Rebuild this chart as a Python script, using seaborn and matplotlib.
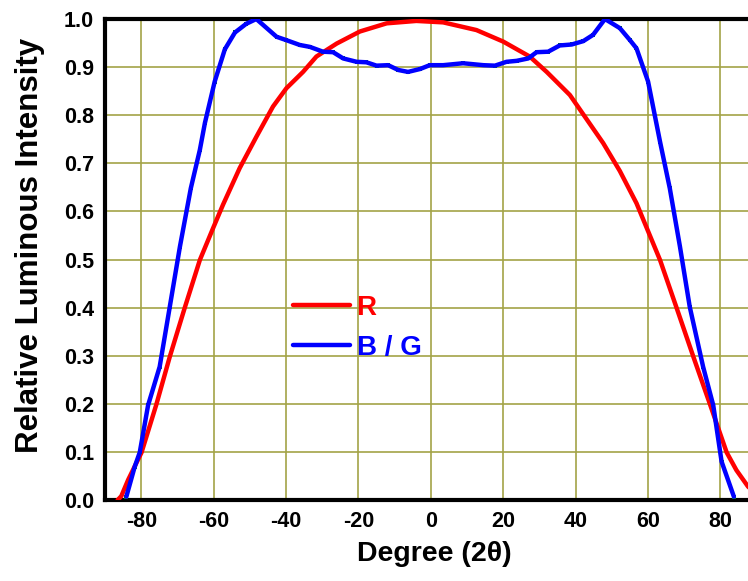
import pandas as pd
import matplotlib.pyplot as plt
import seaborn as sns

# Angular emission profiles
red_deg = [-86.5, -85.5, -83.6, -79.9, -75.8, -72.1, -68.0, -63.8, -60.1, -57.4,
           -52.8, -48.2, -43.6, -39.9, -35.3, -31.6, -26.0, -19.6, -12.2, -4.0,
           3.4, 12.6, 20.0, 27.3, 32.0, 38.4, 43.0, 47.6, 52.2, 56.8,
           63.3, 67.9, 72.5, 77.1, 81.7, 84.4, 87.6, 90.0]
red_int = [0.0, 0.008, 0.042, 0.099, 0.199, 0.298, 0.399, 0.499, 0.566, 0.614,
           0.690, 0.755, 0.818, 0.856, 0.890, 0.922, 0.949, 0.974, 0.991, 0.996,
           0.993, 0.977, 0.953, 0.922, 0.890, 0.842, 0.792, 0.742, 0.684, 0.617,
           0.499, 0.399, 0.298, 0.199, 0.099, 0.062, 0.028, 0.010]

blue_deg = [-84.1, -81.8, -80.4, -78.1, -74.9, -72.1, -69.3, -66.3, -63.8, -62.4,
            -59.7, -56.9, -54.1, -51.0, -48.2, -42.6, -39.9, -36.2, -33.4, -29.8,
            -27.0, -24.2, -20.5, -17.8, -15.0, -11.8, -9.0, -6.3, -3.0, -0.3,
            3.4, 8.9, 14.5, 17.7, 20.9, 23.7, 26.9, 29.2, 32.4, 35.6,
            38.9, 42.1, 44.8, 48.1, 52.2, 55.0, 56.8, 60.0, 63.3, 66.0,
            68.8, 71.5, 75.2, 78.0, 80.3, 83.7]
blue_int = [0.007, 0.069, 0.099, 0.197, 0.277, 0.402, 0.527, 0.648, 0.728, 0.784,
            0.870, 0.937, 0.972, 0.990, 1.000, 0.963, 0.956, 0.946, 0.942, 0.932,
            0.931, 0.918, 0.911, 0.910, 0.903, 0.904, 0.894, 0.890, 0.896, 0.904,
            0.904, 0.908, 0.904, 0.903, 0.911, 0.913, 0.918, 0.931, 0.932, 0.945,
            0.947, 0.954, 0.967, 1.000, 0.981, 0.956, 0.939, 0.870, 0.745, 0.648,
            0.527, 0.402, 0.277, 0.197, 0.080, 0.007]

x_ticks = [-80, -60, -40, -20, 0, 20, 40, 60, 80]
y_ticks = [0.0, 0.1, 0.2, 0.3, 0.4, 0.5, 0.6, 0.7, 0.8, 0.9, 1.0]

sns.set_style("white")
plt.rcParams['font.family'] = ['Liberation Sans', 'DejaVu Sans']
plt.rcParams['font.weight'] = 'bold'
plt.rcParams['axes.unicode_minus'] = False
plt.rcParams['text.color'] = 'black'
plt.rcParams['axes.labelcolor'] = 'black'
plt.rcParams['xtick.color'] = 'black'
plt.rcParams['ytick.color'] = 'black'

fig = plt.figure(figsize=(7.48, 5.81), dpi=100)
ax = fig.add_axes([105 / 748, 81 / 581, 1 - 105 / 748, 481 / 581])

red = pd.DataFrame({"deg": red_deg, "val": red_int})
blue = pd.DataFrame({"deg": blue_deg, "val": blue_int})

sns.lineplot(data=red, x="deg", y="val", color="#ff0000", lw=3.2,
             estimator=None, sort=False, label="R", ax=ax, zorder=3)
# faint green markers sit under the blue trace
sns.lineplot(data=blue, x="deg", y="val", color="#008800", lw=0, marker="s",
             markersize=3.5, markeredgewidth=0, estimator=None, sort=False,
             legend=False, ax=ax, zorder=3)
sns.lineplot(data=blue, x="deg", y="val", color="#0000ff", lw=3.2,
             estimator=None, sort=False, label="B / G", ax=ax, zorder=4)

ax.set_xlim(-90, 87.6)
ax.set_ylim(0, 1.0)
ax.set_xticks(x_ticks)
ax.set_yticks(y_ticks)
ax.set_xticks(range(-90, 90, 10), minor=True)
ax.set_yticks([i * 0.05 for i in range(21)], minor=True)
ax.set_yticklabels([f"{v:.1f}" for v in y_ticks])
ax.grid(True, which="major", color="#a3a347", lw=1.2)
ax.tick_params(which="both", direction="in", labelsize=15.5, pad=8)
ax.tick_params(which="major", length=0)
ax.tick_params(which="minor", length=4, width=1.5, color="black")

for side in ["left", "bottom", "top"]:
    ax.spines[side].set_linewidth(3)
    ax.spines[side].set_color("black")
ax.spines["right"].set_visible(False)

ax.set_xlabel("Degree (2θ)", fontsize=20.5, fontweight="bold")
ax.set_ylabel("Relative Luminous Intensity", fontsize=22.5, fontweight="bold")
ax.xaxis.set_label_coords(0.512, -0.085)
ax.yaxis.set_label_coords(-0.094, 0.53)

leg = ax.legend(loc="upper left", bbox_to_anchor=(0.253, 0.478), frameon=False,
                labelcolor="linecolor", prop={"size": 20, "weight": "bold"},
                handlelength=2.05, handletextpad=0.25, labelspacing=0.5)

plt.savefig("out.png", dpi=100)
